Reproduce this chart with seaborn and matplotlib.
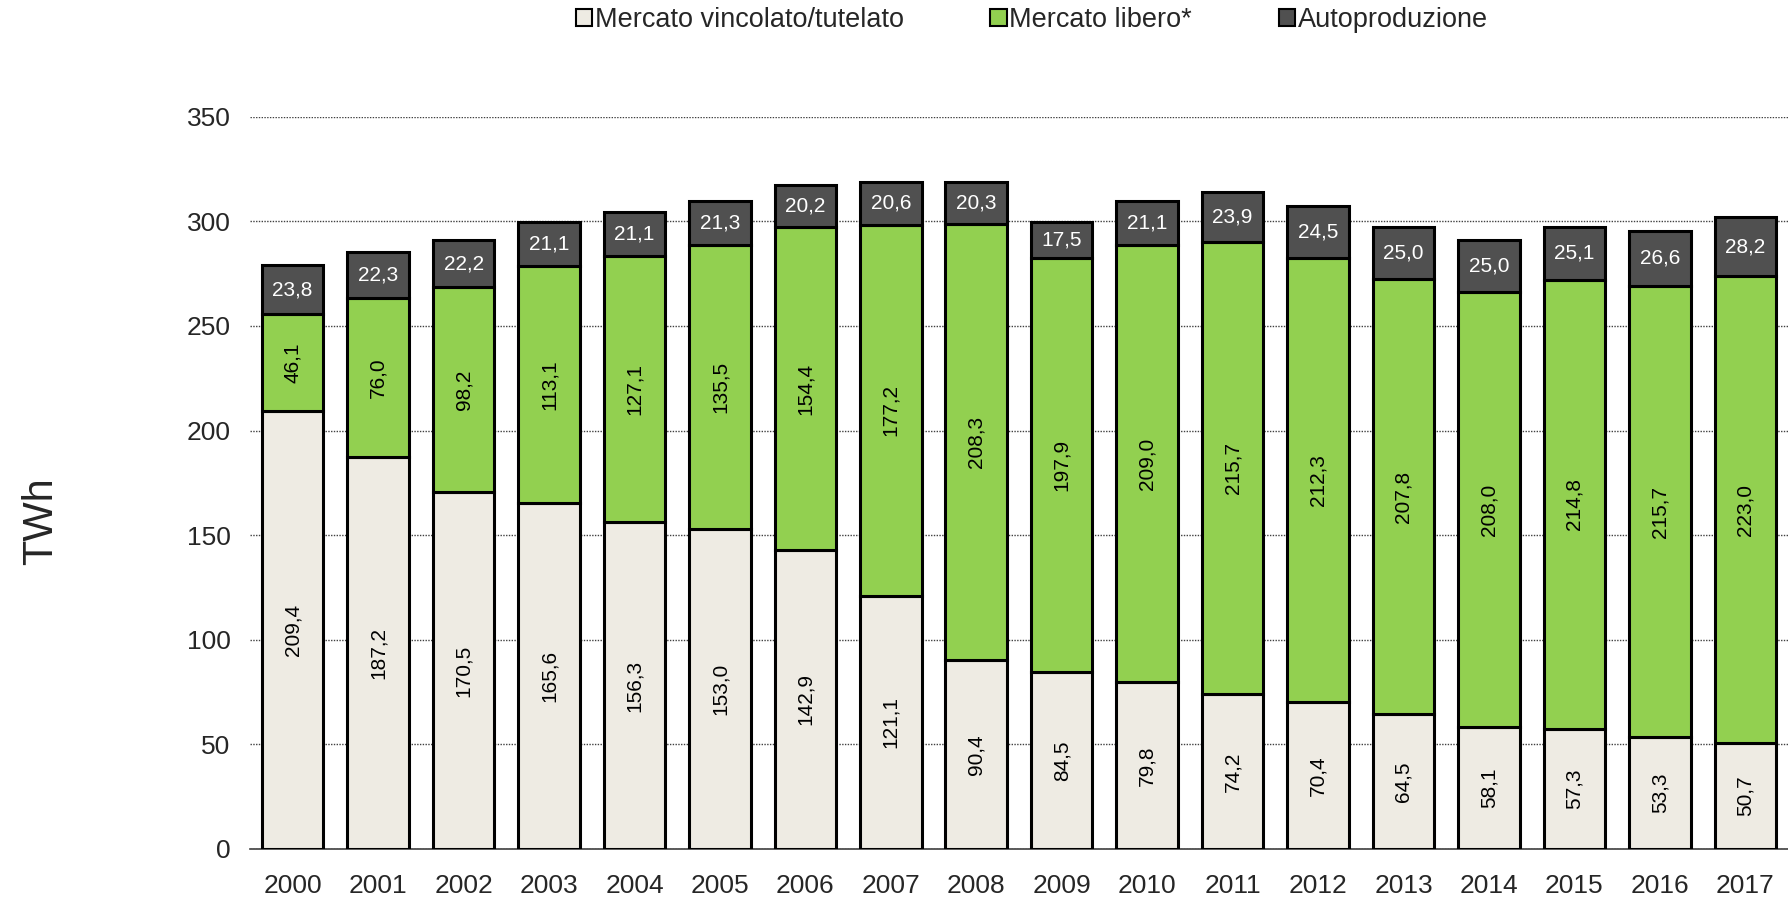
import pandas as pd
import matplotlib
matplotlib.use("Agg")
import matplotlib.pyplot as plt
import seaborn as sns
from matplotlib.patches import Patch


YEARS = [str(y) for y in range(2000, 2018)]
VINCOLATO = [209.4, 187.2, 170.5, 165.6, 156.3, 153.0, 142.9, 121.1, 90.4,
             84.5, 79.8, 74.2, 70.4, 64.5, 58.1, 57.3, 53.3, 50.7]
LIBERO = [46.1, 76.0, 98.2, 113.1, 127.1, 135.5, 154.4, 177.2, 208.3,
          197.9, 209.0, 215.7, 212.3, 207.8, 208.0, 214.8, 215.7, 223.0]
AUTO = [23.8, 22.3, 22.2, 21.1, 21.1, 21.3, 20.2, 20.6, 20.3,
        17.5, 21.1, 23.9, 24.5, 25.0, 25.0, 25.1, 26.6, 28.2]
SERIES_NAMES = ["Mercato vincolato/tutelato", "Mercato libero*", "Autoproduzione"]
COLORS = ["#EEEBE3", "#92D050", "#505050"]


def fmt(v):
	return f"{v:.1f}".replace(".", ",")


def main():
	sns.set_style("white")
	plt.rcParams["font.family"] = ["Liberation Sans", "DejaVu Sans"]

	df = pd.DataFrame({
		"year": YEARS,
		"vincolato": VINCOLATO,
		"libero": LIBERO,
		"auto": AUTO,
	})
	df["base_auto"] = df["vincolato"] + df["libero"]

	fig = plt.figure(figsize=(17.88, 8.98), dpi=100)
	ax = fig.add_axes([0.1398, 0.0546, 0.8602, 0.8154])

	bar_kw = dict(width=0.72, edgecolor="black", linewidth=2.2, zorder=3)
	sns.barplot(data=df, x="year", y="vincolato", color=COLORS[0], ax=ax,
				saturation=1, **bar_kw)
	sns.barplot(data=df, x="year", y="libero", bottom=df["vincolato"],
				color=COLORS[1], ax=ax, saturation=1, **bar_kw)
	sns.barplot(data=df, x="year", y="auto", bottom=df["base_auto"],
				color=COLORS[2], ax=ax, saturation=1, **bar_kw)

	ax.bar_label(ax.containers[0], labels=[fmt(v) for v in VINCOLATO],
				 label_type="center", rotation=90, fontsize=15, color="black")
	ax.bar_label(ax.containers[1], labels=[fmt(v) for v in LIBERO],
				 label_type="center", rotation=90, fontsize=15, color="black")
	ax.bar_label(ax.containers[2], labels=[fmt(v) for v in AUTO],
				 label_type="center", fontsize=15, color="white")

	ax.set_ylim(0, 350)
	ax.set_xlim(-0.5, 17.38)
	ax.set_yticks(range(0, 351, 50))
	ax.yaxis.grid(True, linestyle=(0, (1, 1)), color="#404040", linewidth=1.0, zorder=0)
	ax.set_axisbelow(True)

	for side in ["top", "right", "left"]:
		ax.spines[side].set_visible(False)
	ax.spines["bottom"].set_color("#404040")
	ax.spines["bottom"].set_linewidth(1.2)

	ax.set_xlabel("")
	ax.set_ylabel("")
	ax.tick_params(axis="y", length=0, labelsize=19, pad=14)
	ax.tick_params(axis="x", length=0, labelsize=19, pad=18)
	ax.set_xticks(range(len(YEARS)))
	ax.set_xticklabels(YEARS)
	ax.set_xticks([i - 0.5 for i in range(len(YEARS) + 1)], minor=True)
	ax.tick_params(axis="x", which="minor", length=7, width=1.2, color="#404040",
				   direction="out")

	fig.text(41 / 1788, 1 - 521 / 898, "TWh", rotation=90, fontsize=30,
			 ha="center", va="center")

	handles = [Patch(facecolor=c, edgecolor="black", linewidth=1.5) for c in COLORS]
	fig.legend(handles, SERIES_NAMES, loc="center", bbox_to_anchor=(0.577, 1 - 20 / 898),
			   ncol=3, frameon=False, fontsize=19.5, handlelength=0.6, handleheight=0.6,
			   handletextpad=0.1, columnspacing=3.2)

	fig.savefig("out.png", dpi=100)


if __name__ == "__main__":
	main()
